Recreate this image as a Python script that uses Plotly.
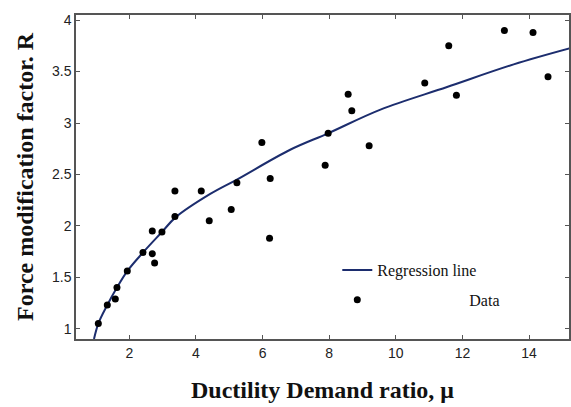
import plotly.graph_objects as go

# ductility demand ratio (mu) and force modification factor (R)
mu_data = [1.07, 1.34, 1.58, 1.63, 1.94, 2.41, 2.69, 2.76, 2.69, 2.98, 3.37, 3.37,
           4.16, 4.40, 5.06, 5.23, 5.98, 6.23, 6.21, 7.88, 7.97, 8.57, 8.68, 9.20,
           10.87, 11.59, 11.82, 13.26, 14.12, 14.57]
r_data = [1.05, 1.23, 1.29, 1.40, 1.56, 1.74, 1.73, 1.64, 1.95, 1.94, 2.09, 2.34,
          2.34, 2.05, 2.16, 2.42, 2.81, 2.46, 1.88, 2.59, 2.90, 3.28, 3.12, 2.78,
          3.39, 3.75, 3.27, 3.90, 3.88, 3.45]

# regression curve
mu_fit = [0.94, 1.07, 1.34, 1.63, 1.94, 2.41, 2.98, 3.38, 4.43, 5.23, 6.83, 7.97,
          9.54, 11.54, 13.54, 15.27]
r_fit = [0.90, 1.05, 1.23, 1.40, 1.56, 1.74, 1.94, 2.08, 2.31, 2.45, 2.74, 2.90,
         3.13, 3.35, 3.57, 3.73]

x_ticks = [2, 4, 6, 8, 10, 12, 14]
y_ticks = [1, 1.5, 2, 2.5, 3, 3.5, 4]
y_tick_text = ["1", "1.5", "2", "2.5", "3", "3.5", "4"]

fig = go.Figure()
fig.add_trace(go.Scatter(
    x=mu_fit, y=r_fit, mode="lines", name="Regression line",
    line=dict(color="#1c2d6e", width=2, shape="spline"),
    legendgroup="a",
))
fig.add_trace(go.Scatter(
    x=mu_data, y=r_data, mode="markers",
    name="\u00a0" * 23 + "Data",
    marker=dict(color="black", size=7),
    legendgroup="b",
))

axis_common = dict(
    showgrid=False, zeroline=False, ticks="inside", ticklen=4,
    tickcolor="#555", showline=True, linecolor="#555", linewidth=1.5,
    mirror="ticks", automargin=False,
    tickfont=dict(family="Liberation Sans", size=14, color="#222"),
)
title_font = dict(family="Liberation Serif", size=24, color="#111")

fig.update_xaxes(
    range=[0.4, 15.2], tickvals=x_ticks,
    title=dict(text="<b>Ductility Demand ratio, μ</b>", standoff=22, font=title_font),
    **axis_common,
)
fig.update_yaxes(
    range=[0.9, 4.05], tickvals=y_ticks, ticktext=y_tick_text,
    title=dict(text="<b>Force modification factor. R</b>", standoff=12, font=title_font),
    **axis_common,
)

fig.update_layout(
    width=571, height=407,
    margin=dict(l=76, r=2, t=15, b=68),
    paper_bgcolor="white", plot_bgcolor="white",
    showlegend=True,
    legend=dict(
        x=0.53, y=0.265, xanchor="left", yanchor="top",
        bgcolor="rgba(0,0,0,0)", traceorder="grouped", tracegroupgap=6,
        font=dict(family="Liberation Serif", size=16, color="#111"),
    ),
)

# page body has a default 8px margin; drop it so the figure sits at the corner
fig.write_html(
    "out.html",
    config={"displayModeBar": False},
    post_script="document.body.style.margin='0';",
)
